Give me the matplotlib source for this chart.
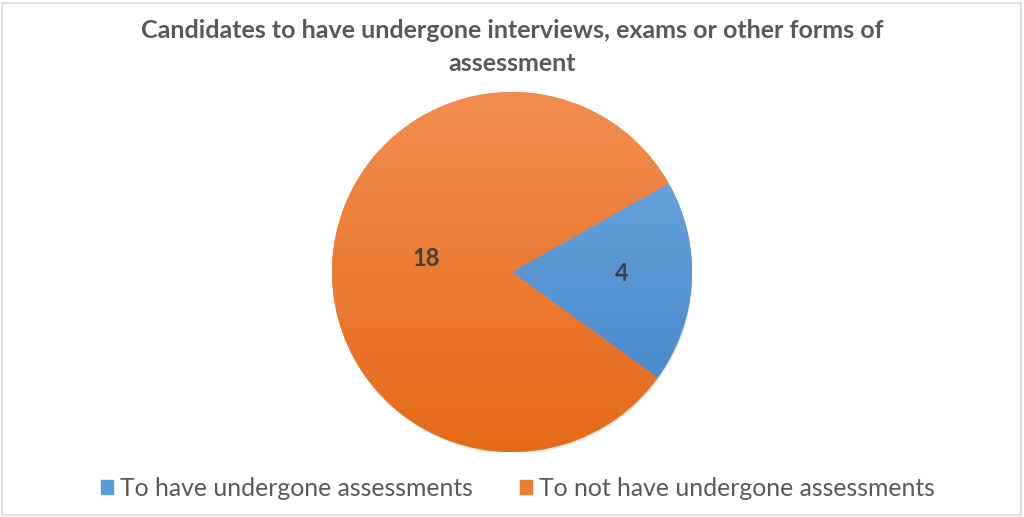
import numpy as np
import matplotlib
matplotlib.use("Agg")
import matplotlib.pyplot as plt
from matplotlib.colors import LinearSegmentedColormap
from matplotlib.patches import Rectangle, Circle

plt.rcParams['font.family'] = ['Lato', 'DejaVu Sans']

title = "Candidates to have undergone interviews, exams or other forms of\nassessment"
categories = ["To have undergone assessments", "To not have undergone assessments"]
values = [4, 18]
top_colors = ["#72AAE0", "#F28D52"]
bottom_colors = ["#3F83C8", "#E56A18"]
base_colors = ["#5B9BD5", "#ED7D31"]
label_dist = [0.61, 0.48]
label_dy = [0.025, 0.047]

W, H = 1024, 517
fig = plt.figure(figsize=(W / 100, H / 100), dpi=100)
fig.patch.set_facecolor("white")

# border
fig.add_artist(Rectangle((1.5 / W, 2.5 / H), (W - 5) / W, (H - 5) / H,
                         transform=fig.transFigure, fill=False,
                         edgecolor="#D9D9D9", linewidth=1.2))

cx, cy, r = 512, 272, 180
ax = fig.add_axes([(cx - r) / W, (H - cy - r) / H, 2 * r / W, 2 * r / H])
ax.set_xlim(-1, 1)
ax.set_ylim(-1, 1)
ax.set_aspect("equal")
ax.axis("off")

# soft shadow
for off, a in [(0.012, 0.10), (0.007, 0.15)]:
    ax.add_patch(Circle((0.004, -off), 1.0, color="#7F7F7F", alpha=a, zorder=0, lw=0))

wedges, _ = ax.pie(values, startangle=29.5, counterclock=False, radius=1,
                   colors=base_colors, center=(0, 0), frame=False,
                   wedgeprops=dict(linewidth=0))
ax.set_xlim(-1, 1)
ax.set_ylim(-1, 1)

grad = np.linspace(1, 0, 256).reshape(-1, 1)
for w, tc, bc in zip(wedges, top_colors, bottom_colors):
    cmap = LinearSegmentedColormap.from_list("g", [bc, tc])
    im = ax.imshow(grad, cmap=cmap, extent=(-1, 1, -1, 1), aspect="auto",
                   origin="upper", zorder=2, vmin=0, vmax=1)
    im.set_clip_path(w)

for w, v, d, dy in zip(wedges, values, label_dist, label_dy):
    ang = np.deg2rad((w.theta1 + w.theta2) / 2)
    ax.text(d * np.cos(ang), d * np.sin(ang) + dy, str(v),
            ha="center", va="center", fontsize=17, fontweight="bold",
            color="#404040", zorder=5)

fig.text(0.5, (H - 47) / H, title, ha="center", va="center", fontsize=18,
         fontweight="bold", color="#595959", linespacing=1.55)

handles = [Rectangle((0, 0), 1, 1, color=c) for c in base_colors]
leg = fig.legend(handles, categories, loc="center", bbox_to_anchor=(518 / W, (H - 488) / H),
                 ncol=2, frameon=False, fontsize=17.8, handlelength=0.47, handleheight=0.47,
                 handletextpad=0.3, columnspacing=1.9, labelcolor="#595959")

fig.savefig("out.png", dpi=100, facecolor="white")
